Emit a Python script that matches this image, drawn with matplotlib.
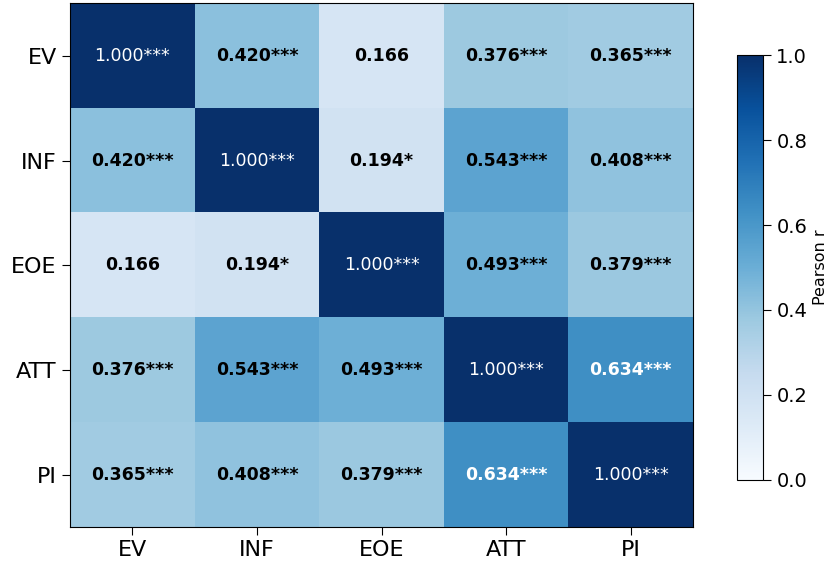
import numpy as np
import matplotlib
matplotlib.use("Agg")
import matplotlib.pyplot as plt

labels = ["EV", "INF", "EOE", "ATT", "PI"]
r = np.array([
    [1.000, 0.420, 0.166, 0.376, 0.365],
    [0.420, 1.000, 0.194, 0.543, 0.408],
    [0.166, 0.194, 1.000, 0.493, 0.379],
    [0.376, 0.543, 0.493, 1.000, 0.634],
    [0.365, 0.408, 0.379, 0.634, 1.000],
])
stars = [
    ["***", "***", "", "***", "***"],
    ["***", "***", "*", "***", "***"],
    ["", "*", "***", "***", "***"],
    ["***", "***", "***", "***", "***"],
    ["***", "***", "***", "***", "***"],
]

fig = plt.figure(figsize=(8.34, 5.62), dpi=100)
ax = fig.add_axes([0.084, 0.062, 0.747, 0.932])
cax = fig.add_axes([0.884, 0.146, 0.031, 0.756])

im = ax.imshow(r, cmap="Blues", vmin=0, vmax=1, aspect="auto")

for i in range(len(labels)):
    for j in range(len(labels)):
        txt = "%.3f%s" % (r[i, j], stars[i][j])
        if i == j:
            ax.text(j, i, txt, ha="center", va="center", color="white", fontsize=12.5)
        else:
            col = "white" if r[i, j] > 0.6 else "black"
            ax.text(j, i, txt, ha="center", va="center", color=col,
                    fontsize=12.5, fontweight="bold")

ax.set_xticks(range(len(labels)))
ax.set_xticklabels(labels, fontsize=16)
ax.set_yticks(range(len(labels)))
ax.set_yticklabels(labels, fontsize=16)
ax.tick_params(length=6)

cb = fig.colorbar(im, cax=cax)
cb.set_ticks([0.0, 0.2, 0.4, 0.6, 0.8, 1.0])
cb.ax.tick_params(labelsize=14, length=6)
cb.set_label("Pearson r", fontsize=11.5)

fig.savefig("out.png", dpi=100)
